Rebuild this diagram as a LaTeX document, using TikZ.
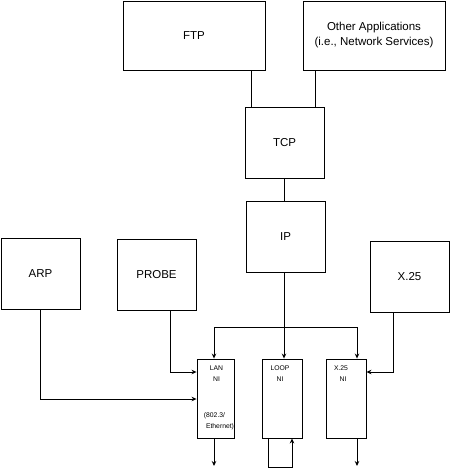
\documentclass[tikz,border=0pt]{standalone}
\usepackage{fontspec}
\setmainfont{Liberation Sans}
\usetikzlibrary{arrows.meta}
\begin{document}
\begin{tikzpicture}[x=1pt,y=-1pt,
 box/.style={draw,line width=0.9pt,inner sep=0pt,font=\fontsize{11.5}{15}\selectfont,align=center},
 ln/.style={line width=0.9pt},
 arr/.style={ln,-{Stealth[length=5pt,width=4.5pt]}},
 small/.style={font=\fontsize{6.8}{8}\selectfont,inner sep=0pt}]
\useasboundingbox (0,0) rectangle (451,471);
% boxes
\node[box,minimum width=142,minimum height=69] (ftp) at (194,35.5) {FTP};
\node[box,minimum width=142,minimum height=69] (other) at (374,35.5) {Other Applications\\(i.e., Network Services)};
\node[box,minimum width=79,minimum height=71] (tcp) at (284.5,142.5) {TCP};
\node[box,minimum width=79,minimum height=71] (ip) at (285.5,236.5) {IP};
\node[box,minimum width=79,minimum height=71] (arp) at (40.5,273.5) {ARP};
\node[box,minimum width=79,minimum height=71] (probe) at (156.5,274.5) {PROBE};
\node[box,minimum width=79,minimum height=71] (x25) at (409.5,276.5) {X.25};
\node[box,minimum width=37,minimum height=79] (lan) at (215.5,398.5) {};
\node[box,minimum width=40,minimum height=79] (loop) at (282,398.5) {};
\node[box,minimum width=40,minimum height=79] (x25ni) at (346,398.5) {};
% small texts
\node[small] (lan1) at (216.5,368) {LAN};
\node[small] (lan2) at (216.5,379) {NI};
\node[small] (lan3) at (214.5,416) {(802.3/};
\node[small] (lan4) at (220,427) {Ethernet)};
\node[small] (loop1) at (280,368) {LOOP};
\node[small] (loop2) at (280,379) {NI};
\node[small] (xni1) at (341,368) {X.25};
\node[small] (xni2) at (343,379) {NI};
% connectors
\coordinate (cf) at (251,0);
\coordinate (co) at (315,0);
\draw[ln] (ftp.south -| cf) -- (tcp.north -| cf);
\draw[ln] (other.south -| co) -- (tcp.north -| co);
\draw[ln] (tcp.south) -- (tcp.south |- ip.north);
\coordinate (bus) at (284,327);
\coordinate (bl) at (214,327);
\coordinate (br) at (357,327);
\draw[arr] (ip.south -| bus) -- (loop.north -| bus);
\draw[arr] (bus) -- (bl) -- (lan.north -| bl);
\draw[arr] (bus) -- (br) -- (x25ni.north -| br);
\coordinate (px) at (170,372);
\draw[arr] (probe.south -| px) |- (lan.west |- px);
\coordinate (ax) at (40,399);
\draw[arr] (arp.south -| ax) |- (lan.west |- ax);
\coordinate (xx) at (393,372);
\draw[arr] (x25.south -| xx) |- (x25ni.east |- xx);
\coordinate (lo) at (214,466);
\draw[arr] (lan.south -| lo) -- (lo);
\coordinate (xo) at (357,466);
\draw[arr] (x25ni.south -| xo) -- (xo);
\coordinate (la) at (268,467);
\coordinate (lb) at (292,467);
\draw[arr] (loop.south -| la) -- (la) -- (lb) -- (loop.south -| lb);
\end{tikzpicture}
\end{document}
